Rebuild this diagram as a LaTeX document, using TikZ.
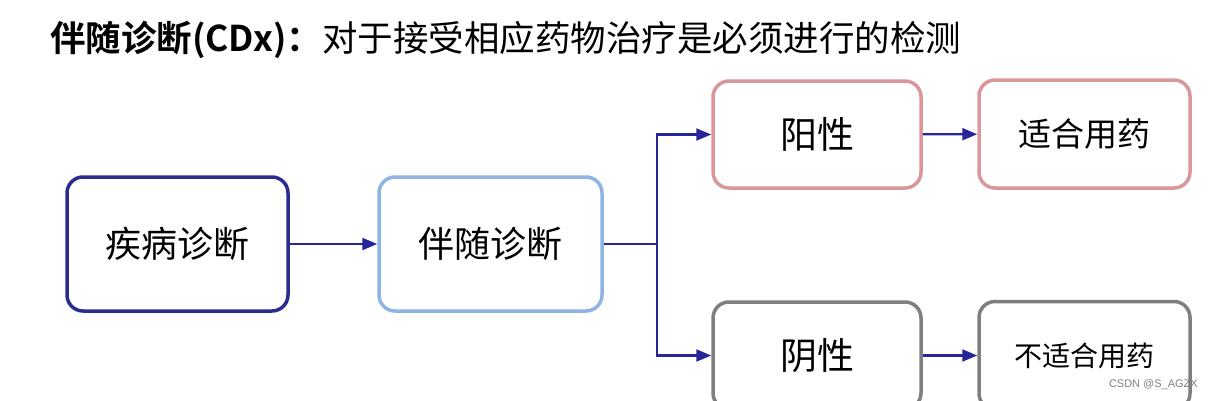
\documentclass[tikz,border=0pt]{standalone}
\usepackage{fontspec}
\newfontfamily\cjk{Noto Sans CJK SC}[BoldFont={Noto Sans CJK SC Bold}]
\setsansfont{Liberation Sans}
\usetikzlibrary{arrows.meta}

\definecolor{navy}{HTML}{2B2D8E}
\definecolor{skyblue}{HTML}{8DB4E2}
\definecolor{rosered}{HTML}{D9979A}
\definecolor{midgray}{HTML}{7F7F7F}
\definecolor{arrowblue}{HTML}{26269A}

\tikzset{
  stagebox/.style={draw, fill=white, rounded corners=16pt, line width=3.5pt,
    font=\cjk\fontsize{36}{36}\selectfont},
  flow/.style={draw=arrowblue, line width=2.2pt, -{Triangle[length=15pt,width=12pt]}},
  flowline/.style={draw=arrowblue, line width=2.2pt},
}

\begin{document}
\begin{tikzpicture}[x=1pt,y=-1pt]
\clip (0,0) rectangle (1213,400);
\fill[white] (0,0) rectangle (1213,400);

%% Title
\node[anchor=west, inner sep=0pt, font=\cjk\fontsize{35.5}{35.5}\selectfont] (title) at (50,40)
  {\bfseries 伴随诊断(CDx)：\mdseries 对于接受相应药物治疗是必须进行的检测};

% left column
\node[stagebox, draw=navy, minimum width=221pt, minimum height=134pt] (disease) at (177.5,244) {疾病诊断};
\node[stagebox, draw=skyblue, minimum width=223pt, minimum height=134pt] (cdx) at (490.5,244) {伴随诊断};

% positive branch
\node[stagebox, draw=rosered, minimum width=208pt, minimum height=107pt, font=\cjk\fontsize{37}{37}\selectfont] (pos) at (817,134.5) {阳性};
\node[stagebox, draw=rosered, minimum width=211pt, minimum height=108pt, font=\cjk\fontsize{33}{33}\selectfont] (fit) at (1084.5,134) {适合用药};

% negative branch
\node[stagebox, draw=midgray, minimum width=208pt, minimum height=107pt, font=\cjk\fontsize{37}{37}\selectfont] (neg) at (817,355.5) {阴性};
\node[stagebox, draw=midgray, minimum width=211pt, minimum height=108pt, font=\cjk\fontsize{28}{28}\selectfont] (unfit) at (1084.5,355.5) {不适合用药};

% connectors
\coordinate (fork) at (657,244);
\draw[flow] (disease) -- (cdx);
\draw[flowline] (cdx.east) -- (fork);
\draw[flow] (fork) |- (pos.west);
\draw[flow] (fork) |- (neg.west);
\draw[flow] (pos) -- (fit);
\draw[flow] (neg) -- (unfit);

% watermark
\node[anchor=east, inner sep=0pt, text=gray, font=\sffamily\fontsize{11}{11}\selectfont] (mark) at (1198,385) {CSDN @S\_AGZX};

\end{tikzpicture}
\end{document}
